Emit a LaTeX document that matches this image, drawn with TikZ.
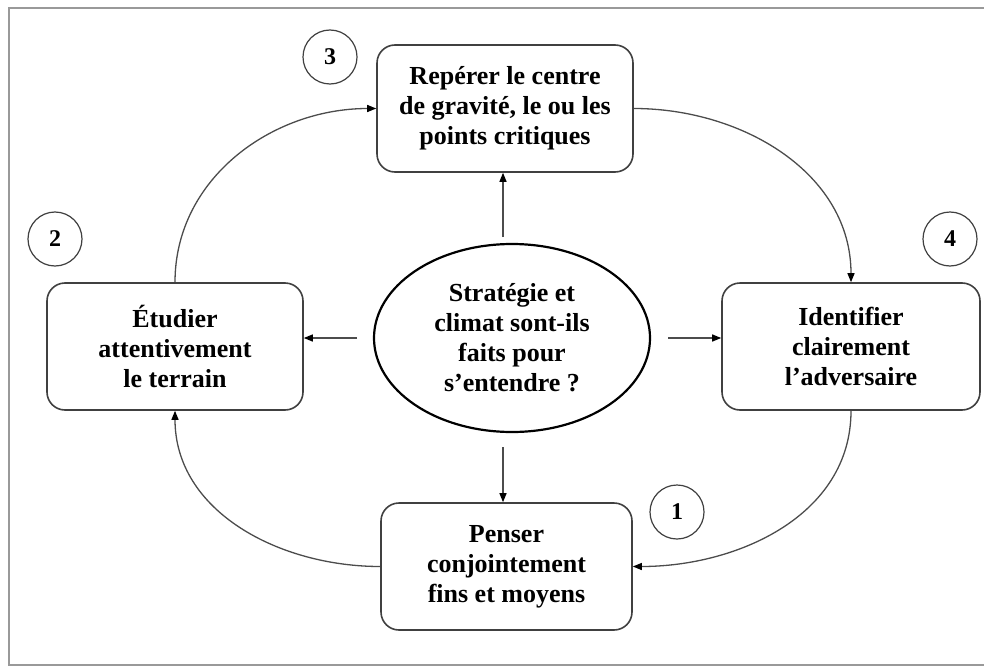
\documentclass[tikz,border=0pt]{standalone}
\usepackage{fontspec}
\setmainfont{Liberation Serif}
\usetikzlibrary{shapes.geometric,arrows.meta}
\begin{document}
\begin{tikzpicture}[x=1pt,y=-1pt,
  stepbox/.style={draw=black!75,line width=1.6pt,rounded corners=18pt,
    minimum width=256pt,minimum height=127pt,align=center,inner sep=0pt,
    font=\fontsize{26}{30}\selectfont\bfseries},
  core/.style={ellipse,draw=black,line width=2.2pt,minimum width=276pt,
    minimum height=188pt,align=center,inner sep=0pt,
    font=\fontsize{26}{30}\selectfont\bfseries},
  num/.style={circle,draw=black!75,line width=1.2pt,minimum size=54pt,
    inner sep=0pt,font=\fontsize{24}{26}\selectfont\bfseries},
  link/.style={draw=black!70,line width=1.3pt,
    -{Triangle[length=9pt,width=7pt,fill=black,color=black]}},
  frame/.style={draw=black!40,line width=2pt}]
\useasboundingbox (0,0) rectangle (984,666);
\draw[frame] (990,8) -- (9,8) -- (9,665) -- (990,665);

\node[stepbox] (top) at (505,108.5) {Repérer le centre\\de gravité, le ou les\\points critiques};
\node[stepbox] (left) at (175,346.5) {Étudier\\attentivement\\le terrain};
\node[stepbox,minimum width=258pt] (right) at (851,346.5) {Identifier\\clairement\\l’adversaire};
\node[stepbox,minimum width=251pt] (bottom) at (506.5,566.5) {Penser\\conjointement\\fins et moyens};
\node[core] (mid) at (512,338) {Stratégie et\\climat sont-ils\\faits pour\\s’entendre ?};

\node[num] (n3) at (330,57) {3};
\node[num] (n2) at (55,239) {2};
\node[num] (n4) at (950,239) {4};
\node[num] (n1) at (677,512) {1};

\coordinate (ut) at (503,237);
\coordinate (ub) at (503,447);
\coordinate (ul) at (357,338);
\coordinate (ur) at (668,338);
\draw[link] (ut) -- (ut |- top.south);
\draw[link] (ub) -- (ub |- bottom.north);
\draw[link] (ul) -- (left.east |- ul);
\draw[link] (ur) -- (right.west |- ur);

\draw[link] (left.north) to[out=90,in=180] (top.west);
\draw[link] (top.east) to[out=0,in=90] (right.north);
\draw[link] (right.south) to[out=-90,in=0] (bottom.east);
\draw[link] (bottom.west) to[out=180,in=-90] (left.south);
\end{tikzpicture}
\end{document}
